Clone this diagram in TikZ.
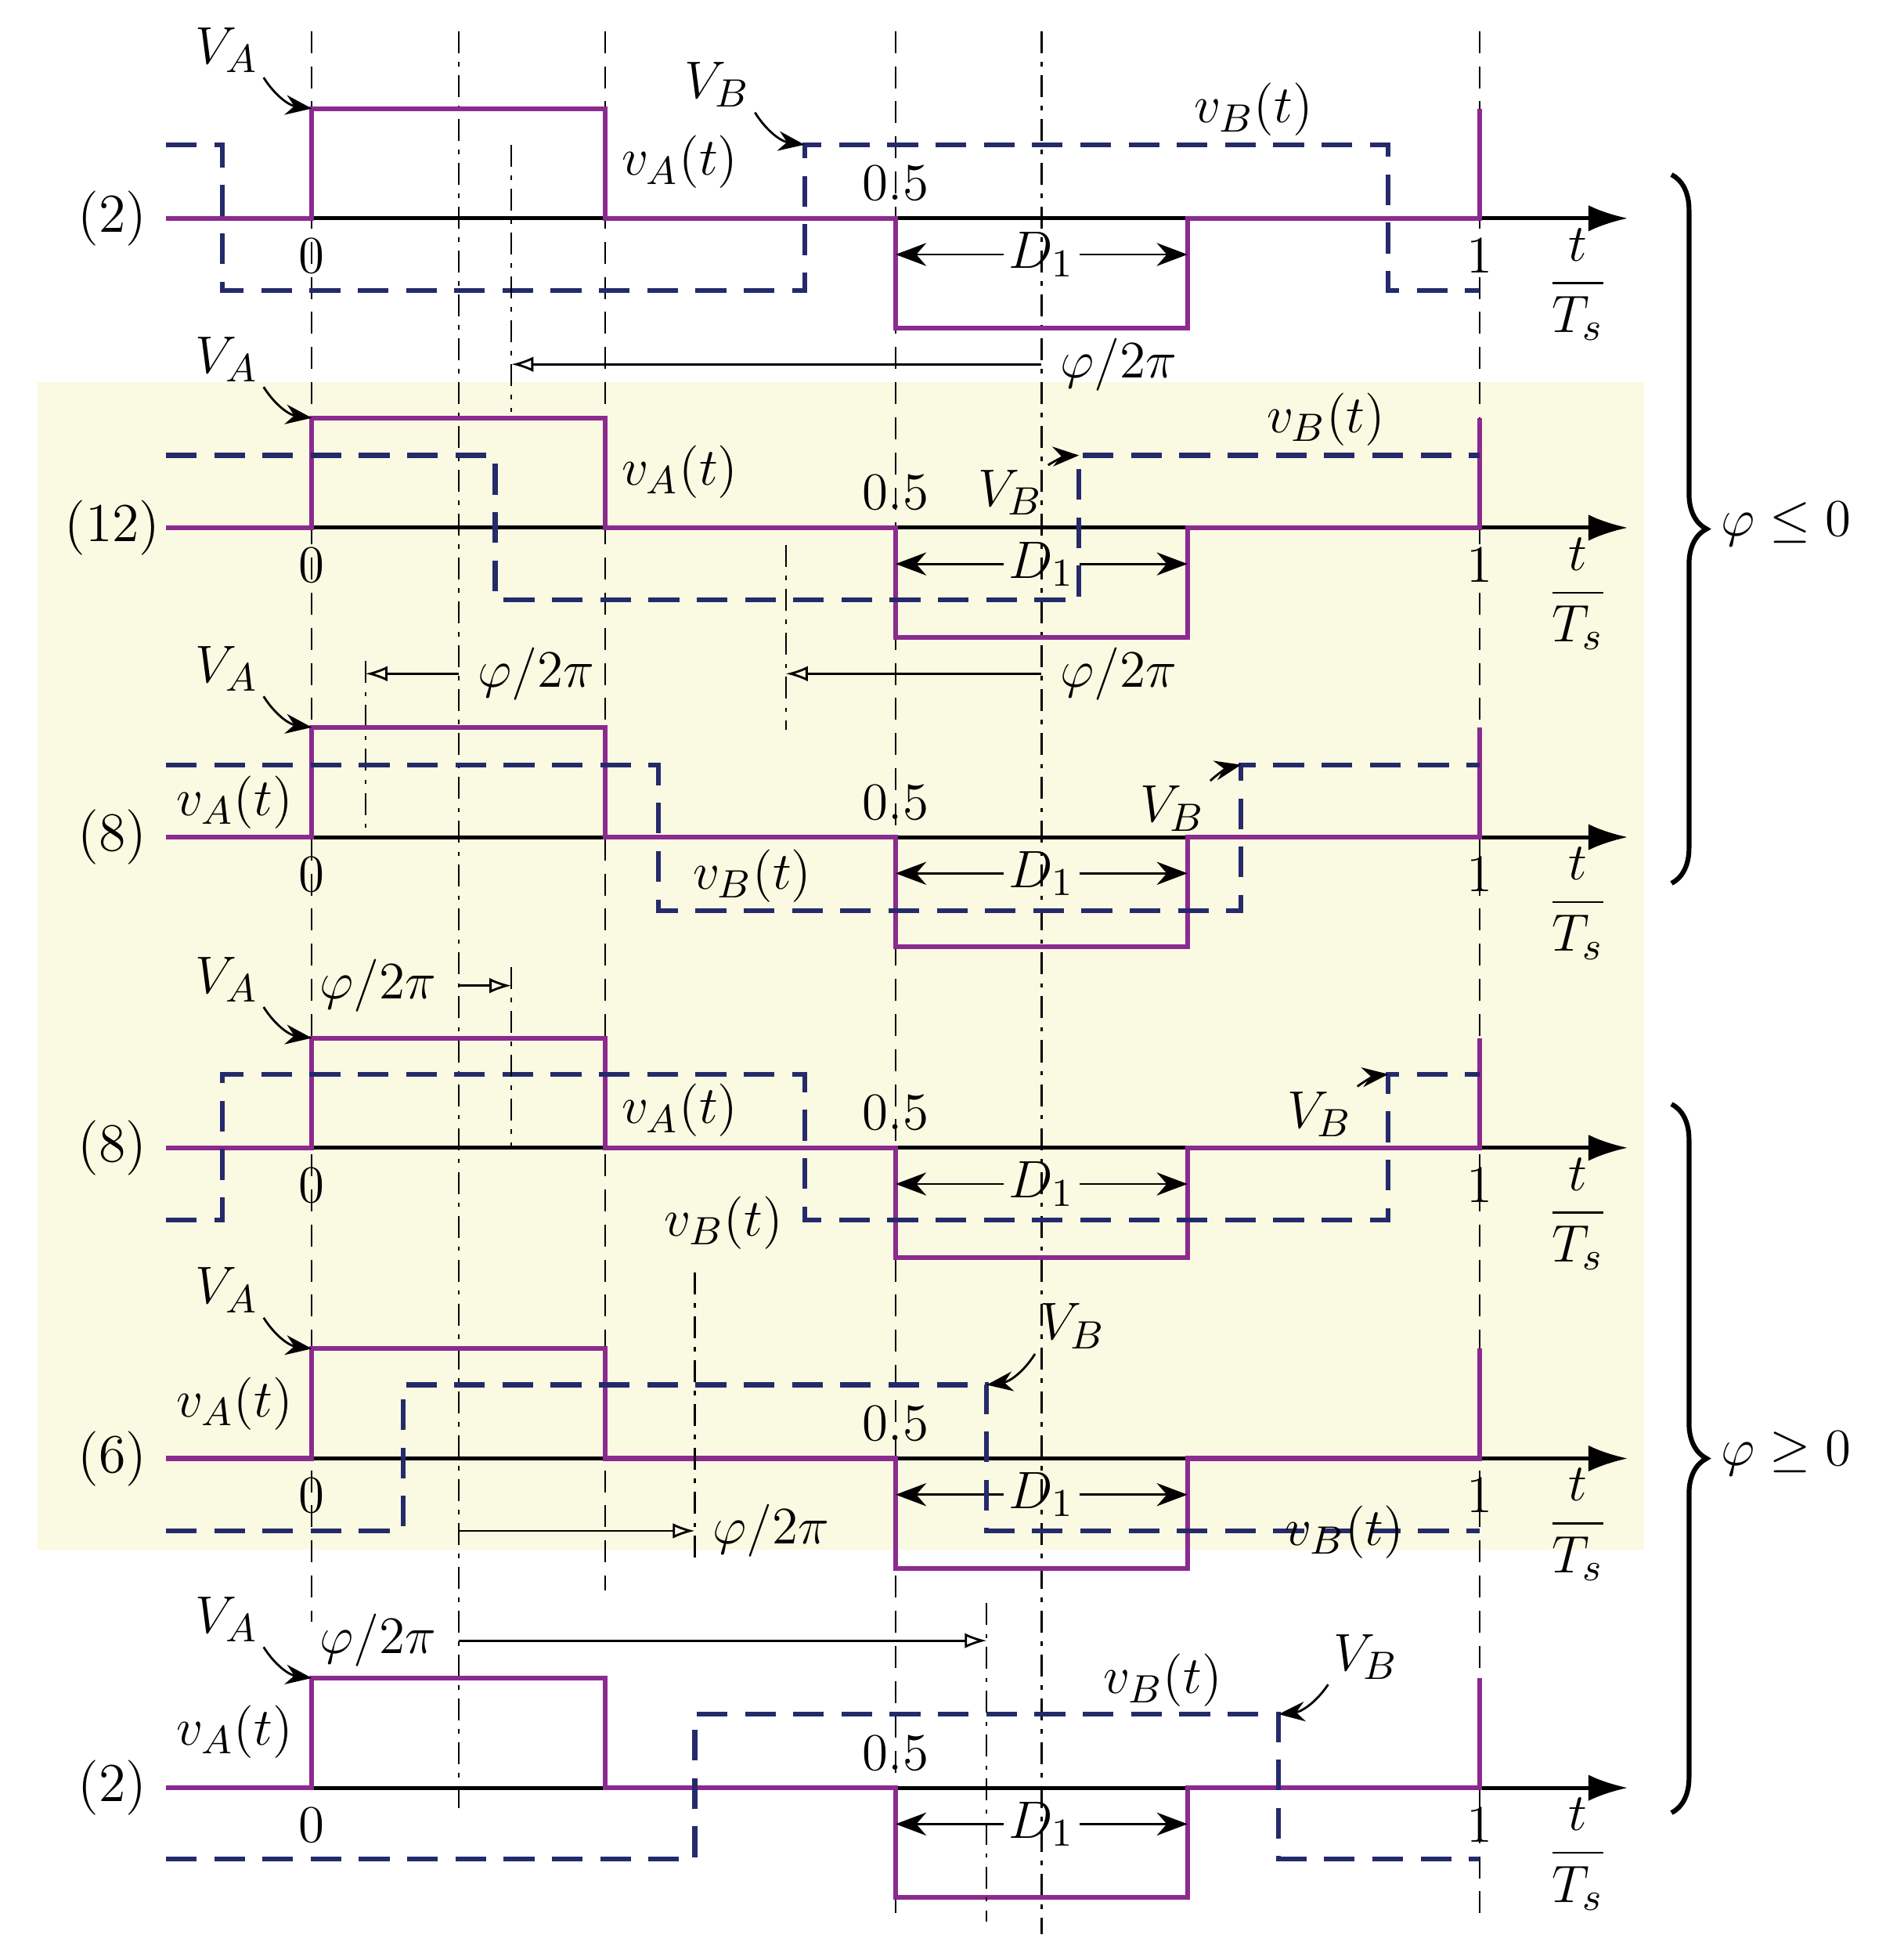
\documentclass[tikz,border=0pt]{standalone}
\usepackage{amsmath}
\usetikzlibrary{arrows.meta,decorations.pathreplacing}
\definecolor{pur}{HTML}{8B2A8F}
\definecolor{nav}{HTML}{252A6B}
\definecolor{bg}{HTML}{FAF9E1}
\newcommand\myrow[2]{%
 \draw[axis] (133,#1) -- (1305,#1);
 \node[lab] at (90,#1) {#2};
 \draw[va] (133,#1) -- (250,#1) -- ({250},{#1-88}) -- ({485},{#1-88}) -- (485,#1) -- (718,#1) -- ({718},{#1+88}) -- ({952},{#1+88}) -- (952,#1) -- (1186,#1) -- ({1186},{#1-88});
 \node[lab] (D#1) at ({835},{#1+29}) {$D_1$};
 \draw[dim] (D#1.west) -- ({718},{#1+29});
 \draw[dim] (D#1.east) -- ({952},{#1+29});
 \node[lab] at ({250},{#1+30}) {$0$};
 \node[lab] at ({718},{#1-28}) {$0.5$};
 \node[lab] at ({1186},{#1+30}) {$1$};
 \node[lab] at ({1265},{#1+53}) {$\dfrac{t}{T_s}$};
 \node[lab] (VA#1) at ({182},{#1-135}) {$V_A$};
 \draw[call] (VA#1.south east) to[bend right=25] ({250},{#1-88});
}
\begin{document}
\begin{tikzpicture}[x=0.01cm,y=-0.01cm,
 axis/.style={line width=0.9pt,-{Latex[length=9pt,width=6pt]}},
 va/.style={pur,line width=1.1pt},
 vb/.style={nav,line width=1.1pt,dash pattern=on 7pt off 4pt},
 dim/.style={line width=0.5pt,-{Stealth[length=7pt]}},
 phi/.style={line width=0.5pt,-{Latex[open,length=5pt,width=3.5pt]}},
 grid1/.style={line width=0.4pt,dash pattern=on 5pt off 3pt},
 grid2/.style={line width=0.4pt,dash pattern=on 5pt off 2pt on 1pt off 2pt},
 call/.style={line width=0.5pt,-{Stealth[length=6pt]}},
 lab/.style={font=\fontsize{12.5}{15}\selectfont,inner sep=1pt}]
\useasboundingbox (0,0) rectangle (1526,1571);
\fill[bg] (30,306) rectangle (1318,1242);
% grid
\draw[grid1] (250,25) -- (250,1300);
\draw[grid1] (485,25) -- (485,1275);
\draw[grid1] (718,25) -- (718,1540);
\draw[grid1] (1186,25) -- (1186,1540);
\draw[grid2] (368,25) -- (368,1455);
\draw[grid2] (835,25) -- (835,1550);
% row 1
\myrow{175}{(2)}
\draw[vb] (133,116) -- (178,116) -- (178,233) -- (645,233) -- (645,116) -- (1113,116) -- (1113,233) -- (1186,233);
\node[lab] (VB1) at (575,68) {$V_B$};
\draw[call] (VB1.south east) to[bend right=25] (645,116);
\node[lab] at (545,130) {$v_A(t)$};
\node[lab] at (1005,88) {$v_B(t)$};
\draw[grid2] (410,116) -- (410,330);
\draw[phi] (835,292) -- (410,292);
\node[lab,fill=none] at (897,292) {$\varphi/2\pi$};
% row 2
\myrow{423}{(12)}
\draw[vb] (133,365) -- (397,365) -- (397,481) -- (865,481) -- (865,365) -- (1186,365);
\node[lab] (VB2) at (810,395) {$V_B$};
\draw[call] (VB2.north east) to[bend left=15] (865,365);
\node[lab] at (545,378) {$v_A(t)$};
\node[lab] at (1063,336) {$v_B(t)$};
\draw[grid2] (630,437) -- (630,585);
\draw[phi] (835,540) -- (630,540);
\node[lab] at (897,540) {$\varphi/2\pi$};
\draw[grid2] (293,530) -- (293,670);
\draw[phi] (368,540) -- (293,540);
\node[lab] at (430,540) {$\varphi/2\pi$};
% row 3
\myrow{671}{(8)}
\draw[vb] (133,613) -- (528,613) -- (528,730) -- (995,730) -- (995,613) -- (1186,613);
\node[lab] (VB3) at (940,648) {$V_B$};
\draw[call] (VB3.north east) to[bend left=15] (995,613);
\node[lab] at (603,702) {$v_B(t)$};
\node[lab] at (188,643) {$v_A(t)$};
% row 4
\myrow{920}{(8)}
\draw[vb] (133,978) -- (178,978) -- (178,861) -- (645,861) -- (645,978) -- (1113,978) -- (1113,861) -- (1186,861);
\node[lab] at (303,790) {$\varphi/2\pi$};
\draw[phi] (368,790) -- (410,790);
\draw[grid2] (410,775) -- (410,920);
\node[lab] at (545,890) {$v_A(t)$};
\node[lab] (VB4) at (1058,893) {$V_B$};
\draw[call] (VB4.north east) to[bend left=15] (1113,861);
\node[lab] at (580,980) {$v_B(t)$};
% row 5
\myrow{1169}{(6)}
\draw[vb] (133,1227) -- (323,1227) -- (323,1110) -- (791,1110) -- (791,1227) -- (1186,1227);
\node[lab] (VB5) at (860,1063) {$V_B$};
\draw[call] (VB5.south west) to[bend left=25] (791,1110);
\node[lab] at (1078,1228) {$v_B(t)$};
\node[lab] at (188,1125) {$v_A(t)$};
\draw[grid2] (557,1020) -- (557,1255);
\draw[phi] (368,1227) -- (557,1227);
\node[lab] at (618,1227) {$\varphi/2\pi$};
% row 6
\myrow{1433}{(2)}
\draw[vb] (133,1490) -- (557,1490) -- (557,1374) -- (1025,1374) -- (1025,1490) -- (1186,1490);
\node[lab] (VB6) at (1095,1328) {$V_B$};
\draw[call] (VB6.south west) to[bend left=25] (1025,1374);
\node[lab] at (932,1347) {$v_B(t)$};
\node[lab] at (188,1388) {$v_A(t)$};
\node[lab] at (303,1315) {$\varphi/2\pi$};
\draw[phi] (368,1315) -- (791,1315);
\draw[grid2] (791,1285) -- (791,1540);
% braces
\draw[line width=1.1pt,decorate,decoration={brace,amplitude=8pt}] (1340,140) -- (1340,708);
\node[lab] at (1432,420) {$\varphi\leq 0$};
\draw[line width=1.1pt,decorate,decoration={brace,amplitude=8pt}] (1340,885) -- (1340,1453);
\node[lab] at (1432,1165) {$\varphi\geq 0$};
\end{tikzpicture}
\end{document}
